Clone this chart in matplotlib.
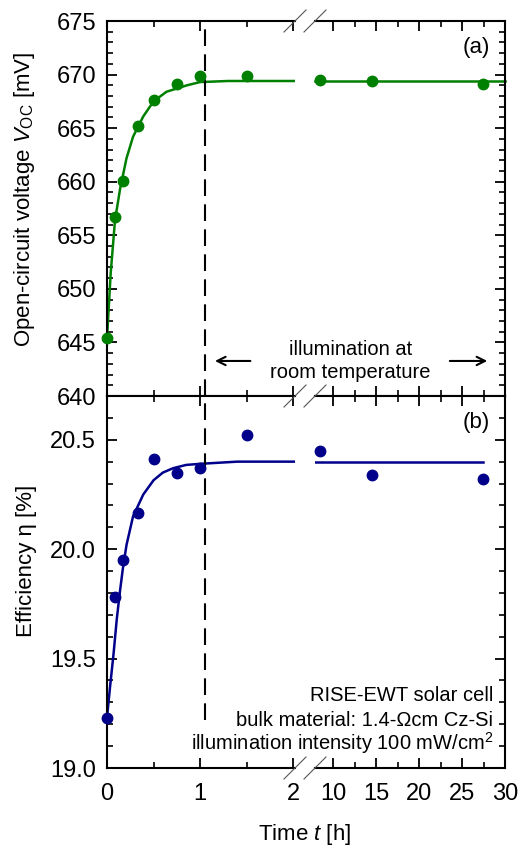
import matplotlib
matplotlib.use('Agg')
import numpy as np
import matplotlib.pyplot as plt
from matplotlib.lines import Line2D

plt.rc('font', family='Liberation Sans')
plt.rc('mathtext', fontset='custom', rm='Liberation Sans', it='Liberation Sans:italic')

# data
t_pts = [0, 0.083, 0.167, 0.333, 0.5, 0.75, 1.0, 1.5]
voc_pts = [645.4, 656.7, 660.1, 665.2, 667.6, 669.1, 669.9, 669.9]
eta_pts = [19.23, 19.78, 19.95, 20.165, 20.41, 20.35, 20.37, 20.52]

t_long = [8.5, 14.5, 27.4]
voc_long = [669.5, 669.4, 669.1]
eta_long = [20.45, 20.34, 20.32]

# fitted curves
t_fit_a = [0, 0.04, 0.086, 0.14, 0.21, 0.28, 0.39, 0.5, 0.64, 0.86, 1.0, 1.3, 2.02]
voc_fit_a = [645.4, 651.5, 656.4, 659.3, 662.2, 664.2, 666.1, 667.5, 668.4, 669.0, 669.3, 669.4, 669.4]
t_fit_a_long = [7.9, 30]
voc_fit_a_long = [669.4, 669.4]

t_fit_b = [0, 0.035, 0.07, 0.105, 0.14, 0.17, 0.21, 0.28, 0.39, 0.5, 0.6, 0.71, 0.85, 1.0, 1.4, 2.02]
eta_fit_b = [19.23, 19.38, 19.52, 19.68, 19.81, 19.91, 20.02, 20.15, 20.25, 20.315, 20.35, 20.37, 20.385, 20.39, 20.40, 20.40]
t_fit_b_long = [7.9, 27.4]
eta_fit_b_long = [20.40, 20.40]

green = '#008000'
blue = '#00008B'
W, H = 518, 846

fig = plt.figure(figsize=(W / 100, H / 100), dpi=100)


def px_box(x0, x1, ytop, ybot):
    return [x0 / W, 1 - ybot / H, (x1 - x0) / W, (ybot - ytop) / H]


XL0, XL1, XR0, XR1 = 107, 295, 315, 505
axA_l = fig.add_axes(px_box(XL0, XL1, 21, 396))
axA_r = fig.add_axes(px_box(XR0, XR1, 21, 396))
axB_l = fig.add_axes(px_box(XL0, XL1, 396, 768))
axB_r = fig.add_axes(px_box(XR0, XR1, 396, 768))


def style(ax, side, ylim, ymaj, ymin_step, xlim, xmaj, xmin, show_x):
    ax.set_xlim(xlim)
    ax.set_ylim(ylim)
    ax.set_xticks(xmaj)
    ax.set_xticks(xmin, minor=True)
    ax.set_yticks(np.arange(ylim[0], ylim[1] + 1e-9, ymaj))
    ax.set_yticks(np.arange(ylim[0], ylim[1] + 1e-9, ymin_step), minor=True)
    for s in ax.spines.values():
        s.set_linewidth(1.5)
    if side == 'left':
        ax.spines['right'].set_visible(False)
        ax.tick_params(which='both', direction='in', top=True, right=False, left=True)
    else:
        ax.spines['left'].set_visible(False)
        ax.tick_params(which='both', direction='in', top=True, right=True, left=False,
                       labelleft=False)
    ax.tick_params(which='major', length=7, width=1.3, labelsize=17)
    ax.tick_params(which='minor', length=4, width=1.2)
    ax.tick_params(axis='y', pad=8)
    ax.tick_params(axis='x', pad=11, labelbottom=show_x)


style(axA_l, 'left', (640, 675), 5, 1, (0, 2.02), [0, 1, 2], [0.5, 1.5], False)
style(axA_r, 'right', (640, 675), 5, 1, (7.9, 30), [10, 15, 20, 25, 30], [12.5, 17.5, 22.5, 27.5], False)
style(axB_l, 'left', (19.0, 20.7), 0.5, 0.1, (0, 2.02), [0, 1, 2], [0.5, 1.5], True)
style(axB_r, 'right', (19.0, 20.7), 0.5, 0.1, (7.9, 30), [10, 15, 20, 25, 30], [12.5, 17.5, 22.5, 27.5], True)
axB_l.set_yticks([19.0, 19.5, 20.0, 20.5])
axB_l.set_yticklabels(['19.0', '19.5', '20.0', '20.5'])

# panel (a)
axA_l.plot(t_fit_a, voc_fit_a, color=green, lw=1.8)
axA_l.plot(t_pts, voc_pts, 'o', color=green, ms=7.5, clip_on=False, zorder=5)
axA_r.plot(t_fit_a_long, voc_fit_a_long, color=green, lw=1.8, clip_on=False)
axA_r.plot(t_long, voc_long, 'o', color=green, ms=7.5, clip_on=False, zorder=5)

# panel (b)
axB_l.plot(t_fit_b, eta_fit_b, color=blue, lw=1.8)
axB_l.plot(t_pts, eta_pts, 'o', color=blue, ms=7.5, clip_on=False, zorder=5)
axB_r.plot(t_fit_b_long, eta_fit_b_long, color=blue, lw=1.8)
axB_r.plot(t_long, eta_long, 'o', color=blue, ms=7.5, clip_on=False, zorder=5)

# dashed line at end of first hour
axA_l.plot([1.05, 1.05], [640, 675], color='black', lw=1.5, dashes=(8, 4))
axB_l.plot([1.05, 1.05], [19.22, 20.7], color='black', lw=1.5, dashes=(8, 4))

# labels
axA_l.set_ylabel('Open-circuit voltage $V_{\\rm OC}$ [mV]', fontsize=16)
axB_l.set_ylabel('Efficiency η [%]', fontsize=16)
axA_l.yaxis.set_label_coords(-0.37, 0.523)
axB_l.yaxis.set_label_coords(-0.37, 0.556)
fig.text(305 / W, 1 - 834 / H, 'Time $t$ [h]', fontsize=16, ha='center', va='center')

axA_r.text(0.92, 0.93, '(a)', transform=axA_r.transAxes, fontsize=16, ha='right', va='center')
axB_r.text(0.92, 0.93, '(b)', transform=axB_r.transAxes, fontsize=16, ha='right', va='center')

# illumination annotation
axA_r.text(12, 644.3, 'illumination at', fontsize=14.5, ha='center', va='center')
axA_r.text(12, 642.24, 'room temperature', fontsize=14.5, ha='center', va='center')
axA_l.annotate('', xy=(1.13, 643.27), xytext=(1.57, 643.27),
               arrowprops=dict(arrowstyle='->,head_length=0.6,head_width=0.3', lw=1.5, color='black'))
axA_r.annotate('', xy=(28.26, 643.27), xytext=(23.26, 643.27),
               arrowprops=dict(arrowstyle='->,head_length=0.6,head_width=0.3', lw=1.5, color='black'))

axB_r.text(28.6, 19.332, 'RISE-EWT solar cell', fontsize=14.5, ha='right', va='center')
axB_r.text(28.6, 19.218, 'bulk material: 1.4-Ωcm Cz-Si', fontsize=14.5, ha='right', va='center')
axB_r.text(28.6, 19.114, 'illumination intensity 100 mW/cm$^2$', fontsize=14.5, ha='right', va='center')

# axis break marks
for xb in (XL1, XR0):
    for yb in (21, 396, 768):
        xf, yf = xb / W, 1 - yb / H
        fig.add_artist(Line2D([xf - 11 / W, xf + 11 / W], [yf - 11 / H, yf + 11 / H],
                              color='#555555', lw=0.8))

plt.savefig('out.png', dpi=100)
